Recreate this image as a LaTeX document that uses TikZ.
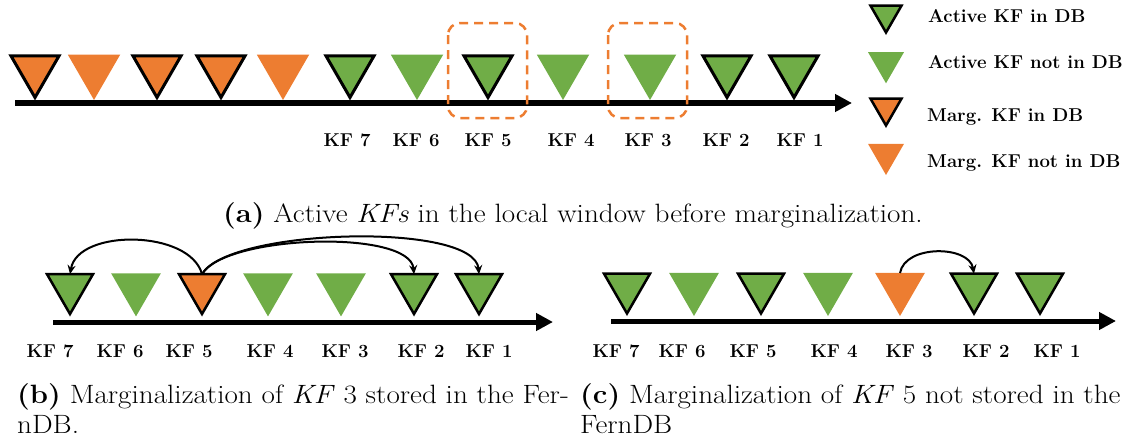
\documentclass[tikz,border=0pt]{standalone}
\usetikzlibrary{shapes.geometric,arrows.meta}
\usepackage{graphicx}
\definecolor{kfgreen}{HTML}{70AD47}
\definecolor{kforange}{HTML}{ED7D31}
% caption text is set slightly wider than its natural shape
\newcommand{\capwide}[1]{\scalebox{1.1}[1]{#1}}
\tikzset{
  tri/.style={regular polygon, regular polygon sides=3, shape border rotate=180,
    inner sep=0pt, outer sep=0pt, minimum size={1.1547*#1}, anchor=corner 1},
  gdb/.style={tri=#1, fill=kfgreen, draw=black, line width=3pt},
  gno/.style={tri=#1, fill=kfgreen},
  odb/.style={tri=#1, fill=kforange, draw=black, line width=3pt},
  ono/.style={tri=#1, fill=kforange},
  thin/.style={line width=2.5pt},
  axis/.style={line width=5.5pt, -{Triangle[length=17pt,width=17pt]}},
  kflab/.style={font=\fontsize{18.6}{20}\selectfont\bfseries, inner sep=0pt},
  leglab/.style={font=\fontsize{18.6}{20}\selectfont\bfseries, inner sep=0pt, anchor=west},
  caption/.style={font=\fontsize{26.5}{30}\selectfont, inner sep=0pt, anchor=base west},
  hlbox/.style={draw=kforange, line width=2.5pt, dash pattern=on 9pt off 6pt, rounded corners=12pt},
  link/.style={line width=2pt, -{Stealth[length=9pt,width=8pt]}},
}
\begin{document}
\begin{tikzpicture}[x=1pt,y=-1pt]
\useasboundingbox (0,0) rectangle (1131,439);

% ---------- (a) local window before marginalization ----------
\coordinate (aL) at (15,103);
\coordinate (aR) at (852,103);
\draw[axis] (aL) -- (aR);

\node[odb=48]   (a01) at (35,97.5) {};
\node[ono=52.5] (a02) at (94,100) {};
\node[odb=48]   (a03) at (157,97.5) {};
\node[odb=48]   (a04) at (221,97.5) {};
\node[ono=52.5] (a05) at (283,100) {};
\node[gdb=48]   (a7) at (350,97.5) {};
\node[gno=52.5] (a6) at (417,100) {};
\node[gdb=48]   (a5) at (488,97.5) {};
\node[gno=52.5] (a4) at (563,100) {};
\node[gno=52.5] (a3) at (650,100) {};
\node[gdb=48]   (a2) at (727,97.5) {};
\node[gdb=48]   (a1) at (794,97.5) {};

\draw[hlbox] (448,23) rectangle (527,118);
\draw[hlbox] (608,23) rectangle (687,118);

\node[kflab] (la7) at (347,140) {KF 7};
\node[kflab] (la6) at (416,140) {KF 6};
\node[kflab] (la5) at (488,140) {KF 5};
\node[kflab] (la4) at (571,140) {KF 4};
\node[kflab] (la3) at (648,140) {KF 3};
\node[kflab] (la2) at (726,140) {KF 2};
\node[kflab] (la1) at (800,140) {KF 1};

% legend
\node[tri=31, fill=kfgreen, draw=black, thin]   (g1) at (886,32.5) {};
\node[gno=36]                                   (g2) at (886,83.3) {};
\node[tri=31, fill=kforange, draw=black, thin]  (g3) at (886,125.5) {};
\node[ono=36]                                   (g4) at (886,175) {};
\node[leglab] (t1) at (928,16)  {Active KF in DB};
\node[leglab] (t2) at (928,62)  {Active KF not in DB};
\node[leglab] (t3) at (927,117) {Marg. KF in DB};
\node[leglab] (t4) at (927,163) {Marg. KF not in DB};

\node[caption] (capa) at (223,222) {\capwide{\textbf{(a)} Active \textit{KFs} in the local window before marginalization.}};

% ---------- (b) KF 3 stored in the FernDB ----------
\coordinate (bL) at (53,322);
\coordinate (bR) at (553,322);
\draw[axis, line width=5pt] (bL) -- (bR);

\node[tri=46, fill=kfgreen, draw=black, thin]  (b7) at (70,314) {};
\node[gno=49.7]                                (b6) at (136,316.4) {};
\node[tri=46, fill=kforange, draw=black, thin] (b5) at (202,314) {};
\node[gno=49.7]                                (b4) at (268,316.4) {};
\node[gno=49.7]                                (b3) at (341,316.4) {};
\node[tri=46, fill=kfgreen, draw=black, thin]  (b2) at (414,314) {};
\node[tri=46, fill=kfgreen, draw=black, thin]  (b1) at (479,314) {};

\draw[link] (b5.north) to[out=105, in=80, looseness=0.9] (b7.north);
\draw[link] (b5.north) to[out=60, in=95, looseness=0.55] (b2.north);
\draw[link] (b5.north) to[out=60, in=95, looseness=0.49] (b1.north);

\node[kflab] (lb7) at (50,351)  {KF 7};
\node[kflab] (lb6) at (120,351) {KF 6};
\node[kflab] (lb5) at (189,351) {KF 5};
\node[kflab] (lb4) at (270,351) {KF 4};
\node[kflab] (lb3) at (345,351) {KF 3};
\node[kflab] (lb2) at (421,351) {KF 2};
\node[kflab] (lb1) at (489,351) {KF 1};

\node[caption] (capb1) at (17,403) {\capwide{\textbf{(b)} Marginalization of \textit{KF} 3 stored in the Fer-}};
\node[caption] (capb2) at (17,433) {\capwide{nDB.}};

% ---------- (c) KF 5 not stored in the FernDB ----------
\coordinate (cL) at (611,321);
\coordinate (cR) at (1116,321);
\draw[axis, line width=5pt] (cL) -- (cR);

\node[tri=46, fill=kfgreen, draw=black, thin] (c7) at (627,313.5) {};
\node[gno=49.7]                               (c6) at (694,316) {};
\node[tri=46, fill=kfgreen, draw=black, thin] (c5) at (761,313.5) {};
\node[gno=49.7]                               (c4) at (828,316) {};
\node[ono=49.7]                               (c3) at (900,316) {};
\node[tri=46, fill=kfgreen, draw=black, thin] (c2) at (974,313.5) {};
\node[tri=46, fill=kfgreen, draw=black, thin] (c1) at (1040,313.5) {};

\draw[link] (c3.north) to[out=80, in=100] (c2.north);

\node[kflab] (lc7) at (616,351)  {KF 7};
\node[kflab] (lc6) at (682,351)  {KF 6};
\node[kflab] (lc5) at (753,351)  {KF 5};
\node[kflab] (lc4) at (834,351)  {KF 4};
\node[kflab] (lc3) at (909,351)  {KF 3};
\node[kflab] (lc2) at (986,351)  {KF 2};
\node[kflab] (lc1) at (1057,351) {KF 1};

\node[caption] (capc1) at (580,403) {\capwide{\textbf{(c)} Marginalization of \textit{KF} 5 not stored in the}};
\node[caption] (capc2) at (580,433) {\capwide{FernDB}};
\end{tikzpicture}
\end{document}
